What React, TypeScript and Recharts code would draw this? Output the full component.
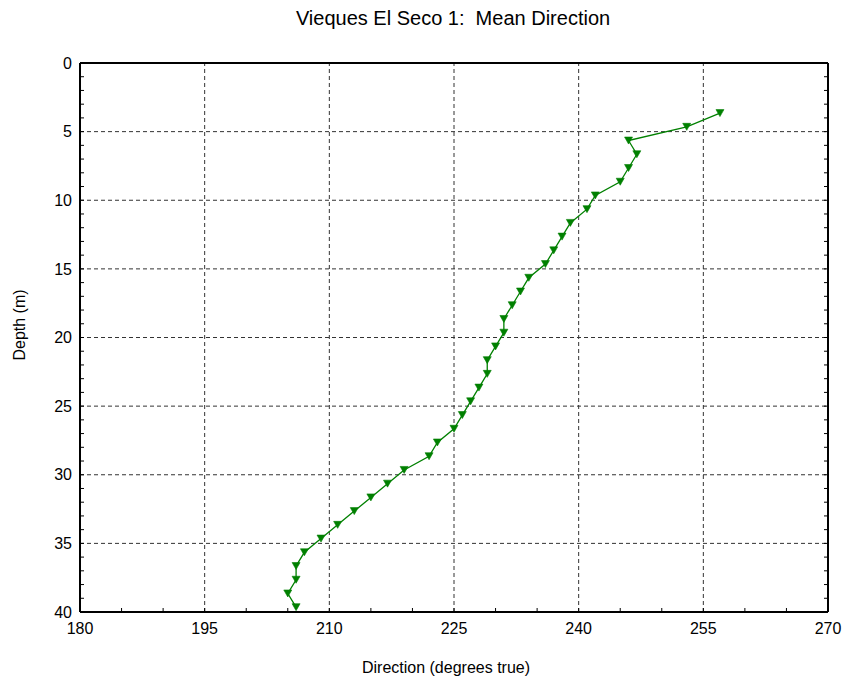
import React from 'react';
import { ScatterChart, Scatter, XAxis, YAxis, ReferenceLine } from 'recharts';

// Depth of each bin (m) and the mean current direction (degrees true) measured there
const depths = [
  3.65, 4.65, 5.65, 6.65, 7.65, 8.65, 9.65, 10.65, 11.65, 12.65,
  13.65, 14.65, 15.65, 16.65, 17.65, 18.65, 19.65, 20.65, 21.65, 22.65,
  23.65, 24.65, 25.65, 26.65, 27.65, 28.65, 29.65, 30.65, 31.65, 32.65,
  33.65, 34.65, 35.65, 36.65, 37.65, 38.65, 39.65,
];
const directions = [
  257, 253, 246, 247, 246, 245, 242, 241, 239, 238,
  237, 236, 234, 233, 232, 231, 231, 230, 229, 229,
  228, 227, 226, 225, 223, 222, 219, 217, 215, 213,
  211, 209, 207, 206, 206, 205, 206,
];

// Axis ticks: labelled majors, plus the small inward minor ticks
const xMajorTicks = [180, 195, 210, 225, 240, 255, 270];
const xAllTicks = [180, 185, 190, 195, 200, 205, 210, 215, 220, 225, 230, 235, 240, 245, 250, 255, 260, 265, 270];
const yMajorTicks = [0, 5, 10, 15, 20, 25, 30, 35, 40];
const yAllTicks = [
  0, 1, 2, 3, 4, 5, 6, 7, 8, 9, 10, 11, 12, 13, 14, 15, 16, 17, 18, 19, 20,
  21, 22, 23, 24, 25, 26, 27, 28, 29, 30, 31, 32, 33, 34, 35, 36, 37, 38, 39, 40,
];
// Interior dashed grid lines
const xGrid = [195, 210, 225, 240, 255];
const yGrid = [5, 10, 15, 20, 25, 30, 35];

const data = depths.map((depth, i) => ({ depth, dir: directions[i] }));

const FONT = '"Liberation Sans", Arial, Helvetica, sans-serif';
const GREEN = '#008000';

const DownTriangle = (props: any) => {
  const { cx, cy } = props;
  if (cx == null || cy == null) return null;
  return (
    <polygon
      points={`${cx - 4},${cy - 3.5} ${cx + 4},${cy - 3.5} ${cx},${cy + 3.5}`}
      fill={GREEN}
      stroke={GREEN}
      strokeWidth={0.6}
    />
  );
};

const xFmt = (v: number) => (xMajorTicks.includes(v) ? String(v) : '');
const yFmt = (v: number) => (yMajorTicks.includes(v) ? String(v) : '');
const blank = () => '';

const axisLine = { stroke: '#000', strokeWidth: 2 };
const tickLine = { stroke: '#000', strokeWidth: 1 };
const tickStyle = { fill: '#000', fontSize: 16, fontFamily: FONT };

export default function App() {
  return (
    <div style={{ position: 'absolute', left: 0, top: 0, width: 847, height: 681, background: '#fff' }}>
      <ScatterChart
        width={847}
        height={681}
        margin={{ top: 62, right: 18, bottom: 19, left: 20 }}
      >
        {xGrid.map((v) => (
          <ReferenceLine key={`gx${v}`} xAxisId="b" yAxisId="l" x={v} stroke="#333" strokeDasharray="4 3" strokeWidth={1} />
        ))}
        {yGrid.map((v) => (
          <ReferenceLine key={`gy${v}`} xAxisId="b" yAxisId="l" y={v} stroke="#333" strokeDasharray="4 3" strokeWidth={1} />
        ))}
        <XAxis
          xAxisId="b"
          type="number"
          dataKey="dir"
          domain={[180, 270]}
          allowDataOverflow
          ticks={xAllTicks}
          interval={0}
          tickFormatter={xFmt}
          tickSize={-4}
          tickMargin={15}
          height={50}
          axisLine={axisLine}
          tickLine={tickLine}
          tick={tickStyle}
        />
        <XAxis
          xAxisId="t"
          orientation="top"
          type="number"
          domain={[180, 270]}
          allowDataOverflow
          ticks={xAllTicks}
          interval={0}
          tickFormatter={blank}
          tickSize={-4}
          height={1}
          axisLine={axisLine}
          tickLine={tickLine}
        />
        <YAxis
          yAxisId="l"
          type="number"
          dataKey="depth"
          domain={[0, 40]}
          allowDataOverflow
          reversed
          ticks={yAllTicks}
          interval={0}
          tickFormatter={yFmt}
          tickSize={-4}
          tickMargin={12}
          width={60}
          axisLine={axisLine}
          tickLine={tickLine}
          tick={tickStyle}
        />
        <YAxis
          yAxisId="r"
          orientation="right"
          type="number"
          domain={[0, 40]}
          allowDataOverflow
          reversed
          ticks={yAllTicks}
          interval={0}
          tickFormatter={blank}
          tickSize={-4}
          width={1}
          axisLine={axisLine}
          tickLine={tickLine}
        />
        <Scatter
          xAxisId="b"
          yAxisId="l"
          data={data}
          line={{ stroke: GREEN, strokeWidth: 1.3 }}
          shape={DownTriangle}
          isAnimationActive={false}
        />
      </ScatterChart>
      <svg
        width={847}
        height={681}
        style={{ position: 'absolute', left: 0, top: 0, pointerEvents: 'none' }}
      >
        <text x={453} y={25} textAnchor="middle" fontSize={20} fontFamily={FONT} fill="#000" style={{ whiteSpace: 'pre' }}>
          {'Vieques El Seco 1:  Mean Direction'}
        </text>
        <text x={446} y={673} textAnchor="middle" fontSize={16} fontFamily={FONT} fill="#000">
          Direction (degrees true)
        </text>
        <text
          x={0}
          y={0}
          transform="translate(25 325) rotate(-90)"
          textAnchor="middle"
          fontSize={16}
          fontFamily={FONT}
          fill="#000"
        >
          Depth (m)
        </text>
      </svg>
    </div>
  );
}
